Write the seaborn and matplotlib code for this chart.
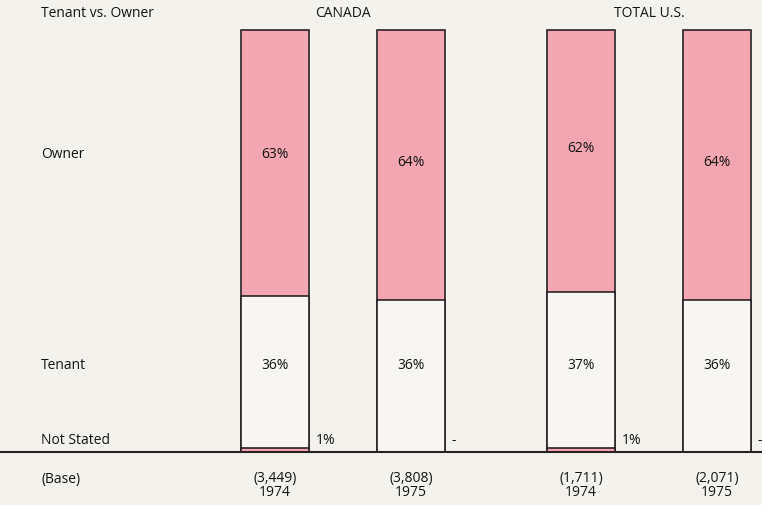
import matplotlib
matplotlib.use("Agg")
import matplotlib.pyplot as plt
import seaborn as sns
import pandas as pd

# ---- data ----
groups = ["CANADA", "TOTAL U.S."]
years = ["1974", "1975", "1974", "1975"]
bases = ["(3,449)", "(3,808)", "(1,711)", "(2,071)"]
owner = [63, 64, 62, 64]
tenant = [36, 36, 37, 36]
not_stated = [1, 0, 1, 0]
not_stated_labels = ["1%", "-", "1%", "-"]
row_labels = ["Owner", "Tenant", "Not Stated", "(Base)"]

# ---- layout ----
positions = [0, 1, 2.25, 3.25]
owner_label_y = [70.4, 68.7, 72.0, 68.7]
tenant_label_y = 20.4
PINK = "#f1a6b1"
BG = "#f3f2ec"
BARWHITE = "#f7f6f2"
EDGE = "#2a2326"

sns.set_style("white")
plt.rcParams["font.family"] = ["Open Sans", "DejaVu Sans"]

df = pd.DataFrame({
    "pos": positions,
    "ns": not_stated,
    "lower": [n + t for n, t in zip(not_stated, tenant)],
    "total": [n + t + o for n, t, o in zip(not_stated, tenant, owner)],
})

fig = plt.figure(figsize=(7.62, 5.05), dpi=100, facecolor=BG)
ax = fig.add_axes([0, 0, 1, 1])
ax.set_facecolor(BG)

common = dict(native_scale=True, orient="x", width=0.5, saturation=1,
              errorbar=None, edgecolor=EDGE, linewidth=1.2, ax=ax)
sns.barplot(data=df, x="pos", y="total", color=PINK, **common)
sns.barplot(data=df, x="pos", y="lower", color=BARWHITE, **common)
sns.barplot(data=df, x="pos", y="ns", color=PINK, **common)

ax.set_xlim(-2.022, 3.581)
ax.set_ylim(-12.56, 107.1)
ax.axis("off")

# baseline
ax.axhline(0, color=EDGE, lw=1.5, zorder=5)

fs = 10
tc = "#151515"
tx = ax.get_yaxis_transform()
ax.text(0.054, 104.0, "Tenant vs. Owner", transform=tx, ha="left", va="center", fontsize=fs, color=tc)
ax.text((positions[0] + positions[1]) / 2, 104.0, groups[0], ha="center", va="center", fontsize=fs, color=tc)
ax.text((positions[2] + positions[3]) / 2, 104.0, groups[1], ha="center", va="center", fontsize=fs, color=tc)

for lab, y in zip(row_labels, [70.4, 20.4, 2.8, -6.4]):
    ax.text(0.054, y, lab, transform=tx, ha="left", va="center", fontsize=fs, color=tc)

for i, p in enumerate(positions):
    ax.text(p, owner_label_y[i], f"{owner[i]}%", ha="center", va="center", fontsize=fs, color=tc)
    ax.text(p, tenant_label_y, f"{tenant[i]}%", ha="center", va="center", fontsize=fs, color=tc)
    ax.text(p + 0.3, 2.8, not_stated_labels[i], ha="left", va="center", fontsize=fs, color=tc)
    ax.text(p, -7.95, f"{bases[i]}\n{years[i]}", ha="center", va="center",
            fontsize=fs, color=tc, linespacing=0.95, multialignment="center")

fig.savefig("out.png", dpi=100, facecolor=BG)
